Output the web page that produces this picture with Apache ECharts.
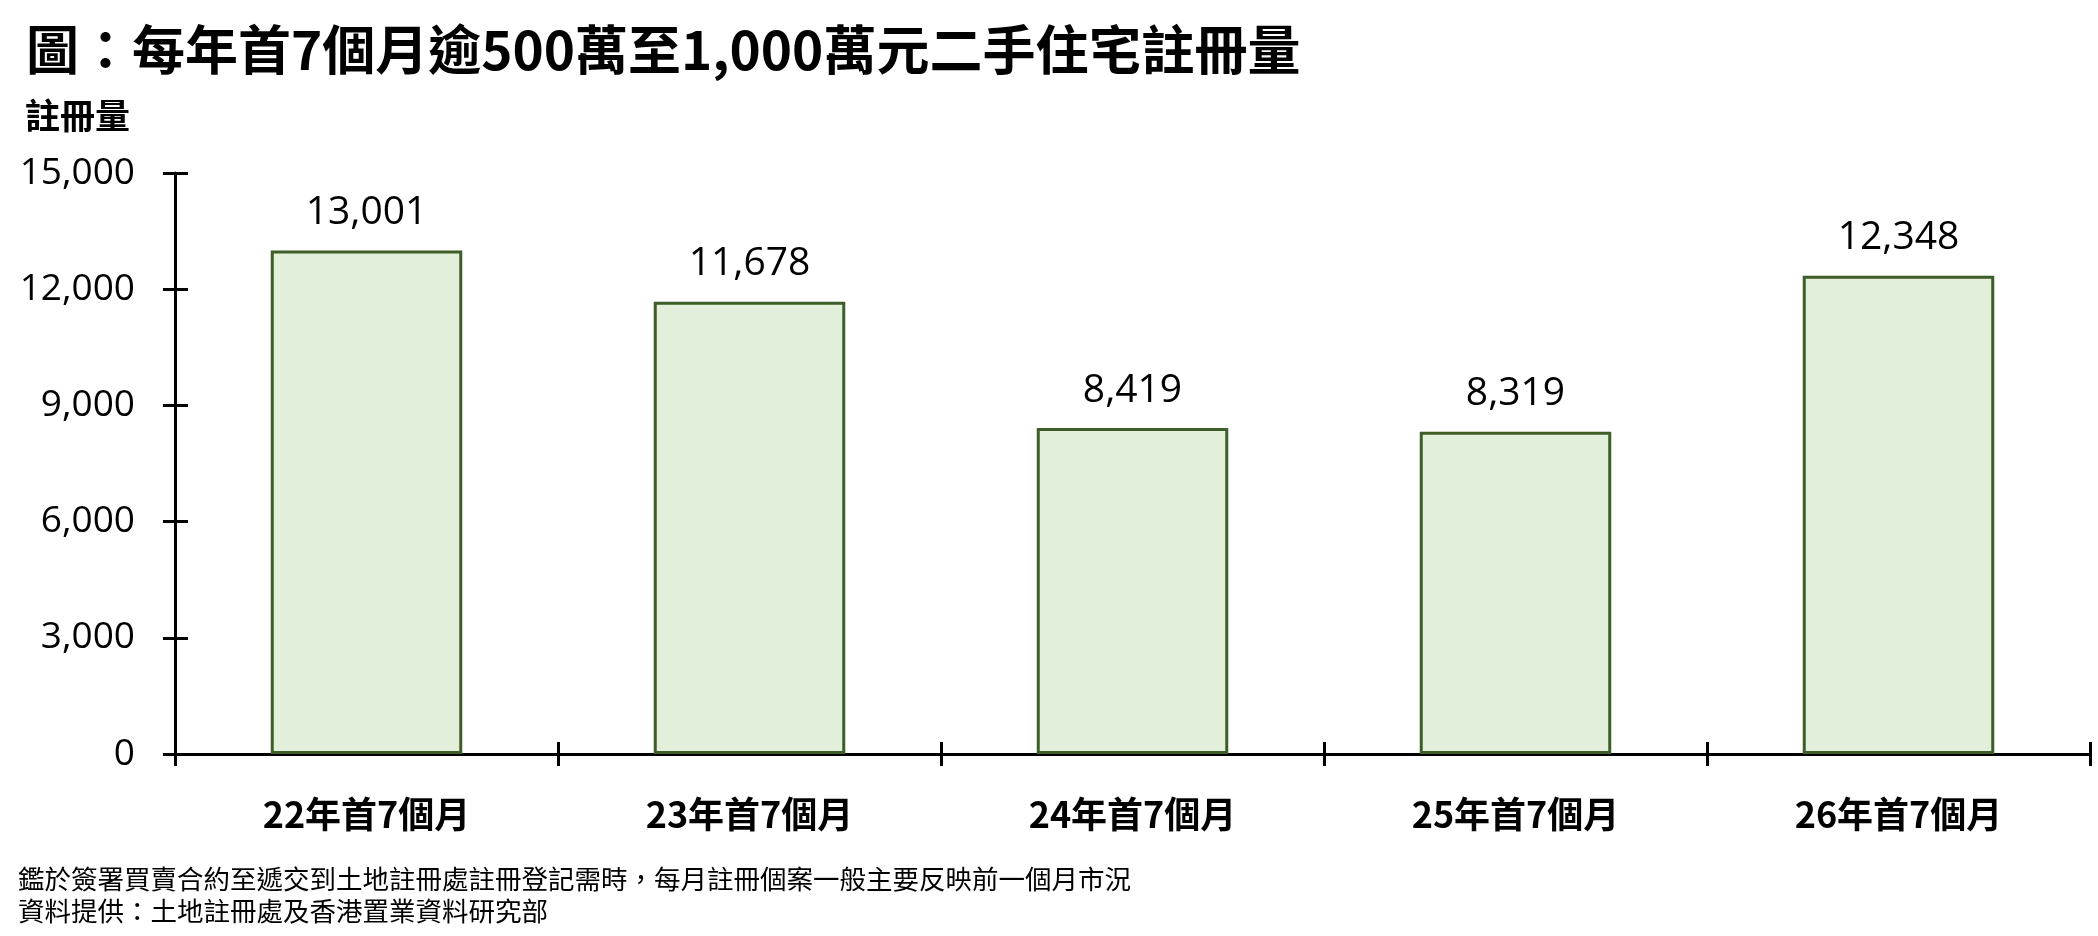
<!DOCTYPE html>
<html>
<head>
<meta charset="utf-8">
<script src="https://cdn.jsdelivr.net/npm/echarts@6/dist/echarts.min.js"></script>
<style>
html,body{margin:0;padding:0;background:#fff;}
#chart{width:2098px;height:936px;}
</style>
</head>
<body>
<div id="chart"></div>
<script>
const categories = ['22年首7個月', '23年首7個月', '24年首7個月', '25年首7個月', '26年首7個月'];
const registrations = [13001, 11678, 8419, 8319, 12348];
const yTicks = { min: 0, max: 15000, interval: 3000 };
const titleText = '圖：每年首7個月逾500萬至1,000萬元二手住宅註冊量';
const yAxisTitle = '註冊量';
const footnotes = ['鑑於簽署買賣合約至遞交到土地註冊處註冊登記需時，每月註冊個案一般主要反映前一個月市況', '資料提供：土地註冊處及香港置業資料研究部'];

const cjk = '"Noto Sans CJK TC", "Noto Sans CJK SC", sans-serif';
const num = '"Open Sans", "Noto Sans", sans-serif';
const fmt = v => Number(v).toLocaleString('en-US');

const chart = echarts.init(document.getElementById('chart'), null, {renderer: 'canvas'});
chart.setOption({
  backgroundColor: '#ffffff',
  animation: false,
  title: [
    { text: titleText, left: 21, top: 18,
      textStyle: { fontFamily: cjk, fontSize: 53, fontWeight: 'bold', color: '#000' } },
    { text: yAxisTitle, left: 20, top: 93,
      textStyle: { fontFamily: cjk, fontSize: 35, fontWeight: 'bold', color: '#000' } },
    { text: footnotes.join('\n'), left: 13, top: 858,
      textStyle: { fontFamily: cjk, fontSize: 26.5, fontWeight: 'normal', color: '#000', lineHeight: 32 } }
  ],
  grid: { left: 175, right: 8, top: 173, bottom: 182 },
  xAxis: [
    { type: 'category', data: categories, boundaryGap: true,
      axisLine: { show: true, lineStyle: { color: '#000', width: 3 } },
      axisTick: { show: true, inside: true, length: 12, lineStyle: { color: '#000', width: 3 } },
      axisLabel: { margin: 42, fontFamily: cjk, fontSize: 36, fontWeight: 'bold', color: '#000' } },
    { type: 'category', data: categories, boundaryGap: true, position: 'bottom',
      axisLine: { show: false },
      axisTick: { show: true, inside: false, length: 12, lineStyle: { color: '#000', width: 3 } },
      axisLabel: { show: false } }
  ],
  yAxis: [
    { type: 'value', min: yTicks.min, max: yTicks.max, interval: yTicks.interval,
      splitLine: { show: false },
      axisLine: { show: true, lineStyle: { color: '#000', width: 3 } },
      axisTick: { show: true, inside: true, length: 13, lineStyle: { color: '#000', width: 3 } },
      axisLabel: { margin: 40, fontFamily: num, fontSize: 37, color: '#000', formatter: fmt } },
    { type: 'value', min: yTicks.min, max: yTicks.max, interval: yTicks.interval, position: 'left',
      splitLine: { show: false },
      axisLine: { show: false },
      axisTick: { show: true, inside: false, length: 12, lineStyle: { color: '#000', width: 3 } },
      axisLabel: { show: false } }
  ],
  series: [{
    type: 'bar',
    xAxisIndex: 0, yAxisIndex: 0,
    data: registrations,
    barWidth: '50%',
    itemStyle: { color: '#E2EFDA', borderColor: '#3D5E28', borderWidth: 3 },
    label: { show: true, position: 'top', distance: 18, formatter: p => fmt(p.value),
      fontFamily: num, fontSize: 39, color: '#000' }
  }]
});
</script>
</body>
</html>
